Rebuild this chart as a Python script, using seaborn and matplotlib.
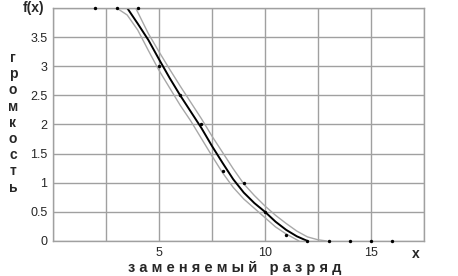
import numpy as np
import pandas as pd
import matplotlib
matplotlib.use('Agg')
import matplotlib.pyplot as plt
import seaborn as sns

# measured points
x_pts = [2, 3, 4, 5, 6, 7, 8, 9, 10, 11, 12, 13, 14, 15, 16]
y_pts = [4, 4, 4, 3, 2.5, 2, 1.2, 1, 0.5, 0.1, 0, 0, 0, 0, 0]

# fitted curve
x_fit = [3.5, 4, 4.5, 5, 5.5, 6, 6.5, 7, 7.5, 8, 8.5, 9, 9.5, 10, 10.5, 11, 11.5, 12]
y_fit = [4.0, 3.73, 3.45, 3.12, 2.8, 2.5, 2.22, 1.94, 1.63, 1.34, 1.06, 0.83, 0.65, 0.5, 0.33, 0.19, 0.08, 0.0]

# confidence band, lower edge
x_low = [3.0, 3.5, 4.0, 4.5, 5, 5.5, 6, 6.5, 7, 7.5, 8, 8.5, 9, 9.5, 10, 10.5, 11, 11.5, 11.6]
y_low = [4.0, 3.88, 3.62, 3.27, 2.93, 2.63, 2.33, 2.06, 1.76, 1.46, 1.17, 0.92, 0.72, 0.56, 0.40, 0.24, 0.12, 0.02, 0.0]

# confidence band, upper edge
x_up = [3.9, 4.5, 5, 5.5, 6, 6.5, 7, 7.5, 8, 8.5, 9, 9.5, 10, 10.5, 11, 11.5, 12, 12.5, 12.9]
y_up = [4.0, 3.56, 3.25, 2.95, 2.66, 2.38, 2.1, 1.8, 1.52, 1.24, 0.98, 0.78, 0.6, 0.44, 0.3, 0.17, 0.07, 0.02, 0.0]

y_ticks = [0, 0.5, 1, 1.5, 2, 2.5, 3, 3.5]
y_ticklabels = ['0', '0.5', '1', '1.5', '2', '2.5', '3', '3.5']
x_ticks = [5, 10, 15]

sns.set_style('white')
plt.rcParams['font.family'] = ['Liberation Sans', 'DejaVu Sans']

fig = plt.figure(figsize=(4.58, 2.76), dpi=100)
ax = fig.add_axes([0.1157, 0.127, 0.81, 0.844])

sns.lineplot(x=x_low, y=y_low, color='#a8a8a8', linewidth=1, ax=ax, sort=False)
sns.lineplot(x=x_up, y=y_up, color='#a8a8a8', linewidth=1, ax=ax, sort=False)
sns.lineplot(x=x_fit, y=y_fit, color='black', linewidth=1.4, ax=ax, sort=False)
sns.scatterplot(x=x_pts, y=y_pts, color='black', s=6, linewidth=0, ax=ax, clip_on=False, zorder=5)

grid_x = np.arange(0, 17.6, 2.5)
ax.set_xlim(0, 17.5)
ax.set_ylim(0, 4)
ax.set_xticks(grid_x)
ax.set_xticklabels([str(int(v)) if v in x_ticks else '' for v in grid_x])
ax.set_yticks(y_ticks + [4])
ax.set_yticklabels(y_ticklabels + [''])
ax.tick_params(length=0, labelsize=9, pad=4)
ax.grid(True, color='#a0a0a0', linewidth=1)
for s in ax.spines.values():
    s.set_color('#a0a0a0')
    s.set_linewidth(1)

ax.set_xlabel('')
ax.set_ylabel('')
ax.text(-0.4, 4.0, 'f(x)', ha='right', va='center', fontsize=10, fontweight='bold')
ax.text(17.1, -0.1, 'x', ha='center', va='top', fontsize=10, fontweight='bold')
fig.text(0.513, 0.028, 'з а м е н я е м ы й   р а з р я д', ha='center', va='center',
         fontsize=10.5, fontweight='bold')
fig.text(0.028, 0.555, '\n'.join('громкость'), ha='center', va='center',
         fontsize=10, fontweight='bold', linespacing=1.2)

fig.savefig('out.png', dpi=100)
